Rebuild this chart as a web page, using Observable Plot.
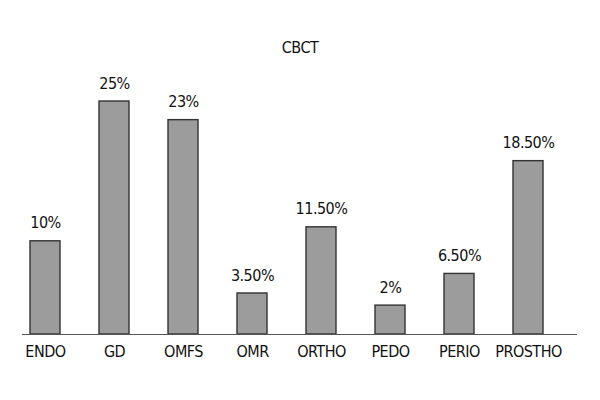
<!DOCTYPE html>
<html>
<head>
<meta charset="utf-8">
<script src="https://cdn.jsdelivr.net/npm/d3@7"></script>
<script src="https://cdn.jsdelivr.net/npm/@observablehq/plot@0.6"></script>
<style>
  html, body { margin: 0; padding: 0; background: #fff; }
  #chart svg text { letter-spacing: -0.5px; }
</style>
</head>
<body>
<div id="chart"></div>
<script>
const title = "CBCT";
const categories = ["ENDO", "GD", "OMFS", "OMR", "ORTHO", "PEDO", "PERIO", "PROSTHO"];
const values = [10, 25, 23, 4.4, 11.5, 3.1, 6.5, 18.6];
const valueLabels = ["10%", "25%", "23%", "3.50%", "11.50%", "2%", "6.50%", "18.50%"];

const data = categories.map((c, i) => ({ cat: c, value: values[i], label: valueLabels[i] }));

const chart = Plot.plot({
  width: 600,
  height: 400,
  marginTop: 0,
  marginLeft: 22,
  marginRight: 23,
  marginBottom: 66,
  style: { fontFamily: "'DejaVu Sans Condensed', 'Liberation Sans Narrow', sans-serif", fontSize: "16px", color: "#111" },
  x: { domain: categories, range: [9.8, 562.8], paddingInner: 0.56, paddingOuter: 0.28, label: null },
  y: { domain: [0, 25], range: [334, 101], axis: null },
  marks: [
    Plot.barY(data, { x: "cat", y: "value", fill: "#9c9c9c", stroke: "#333", strokeWidth: 1.4 }),
    Plot.ruleY([0], { stroke: "#555", strokeWidth: 1.2 }),
    Plot.text(data, { x: "cat", y: "value", text: "label", dy: -18, fontSize: 16, fill: "#111" }),
    Plot.axisX({ tickSize: 0, tickPadding: 11, fontSize: 16, fill: "#111", label: null }),
    Plot.text([title], { frameAnchor: "top", dy: 41, fontSize: 16, fill: "#111" })
  ]
});
document.getElementById("chart").appendChild(chart);
</script>
</body>
</html>
